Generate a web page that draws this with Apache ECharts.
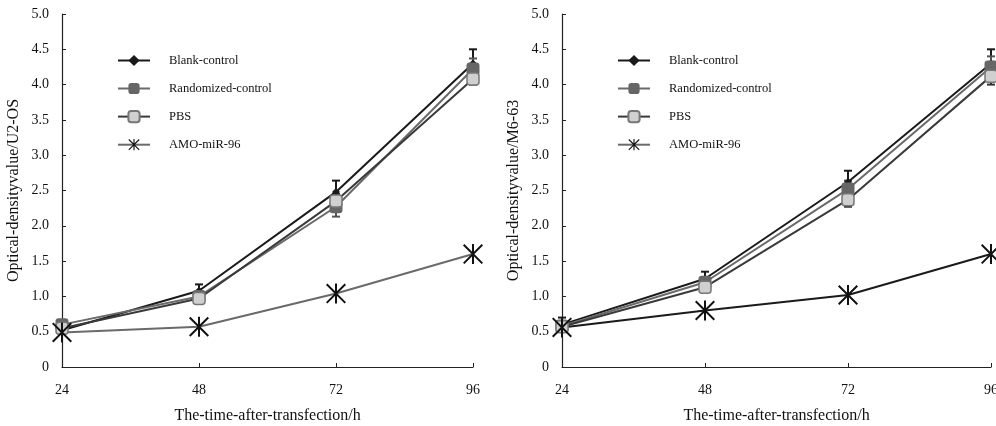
<!DOCTYPE html>
<html>
<head>
<meta charset="utf-8">
<script src="https://cdn.jsdelivr.net/npm/echarts@6/dist/echarts.min.js"></script>
<style>html,body{margin:0;padding:0;background:#fff}#c{width:996px;height:426px}</style>
</head>
<body>
<div id="c"></div>
<script>
const categories = ['24', '48', '72', '96'];
const seriesNames = ['Blank-control', 'Randomized-control', 'PBS', 'AMO-miR-96'];

// Left panel: U2-OS
const u2Blank = [0.52, 1.08, 2.48, 4.30];
const u2Random = [0.60, 1.00, 2.27, 4.22];
const u2PBS = [0.55, 0.97, 2.35, 4.08];
const u2AMO = [0.49, 0.57, 1.04, 1.60];
const u2BlankErr = [0.04, 0.09, 0.16, 0.20];
const u2RandomErr = [0.04, 0.06, 0.14, 0.15];
const u2PBSErr = [0.03, 0.05, 0.10, 0.08];

// Right panel: M6-63
const m6Blank = [0.60, 1.25, 2.62, 4.30];
const m6Random = [0.58, 1.20, 2.52, 4.25];
const m6PBS = [0.57, 1.13, 2.37, 4.12];
const m6AMO = [0.56, 0.80, 1.02, 1.60];
const m6BlankErr = [0.10, 0.10, 0.16, 0.20];
const m6RandomErr = [0.05, 0.06, 0.12, 0.15];
const m6PBSErr = [0.04, 0.05, 0.10, 0.12];

const yTicks = ['0', '0.5', '1.0', '1.5', '2.0', '2.5', '3.0', '3.5', '4.0', '4.5', '5.0'];

const FONT = '"Liberation Serif", "Times New Roman", serif';
const star = 'path://M9 0 L11 0 L11 20 L9 20 Z M1.4 0 L20 18.6 L18.6 20 L0 1.4 Z M18.6 0 L20 1.4 L1.4 20 L0 18.6 Z';

function errSeries(vals, errs, xi, yi, color) {
  const data = vals.map((v, i) => [i, v - errs[i], v + errs[i]]);
  return {
    type: 'custom', xAxisIndex: xi, yAxisIndex: yi, silent: true, z: 1,
    data: data,
    renderItem: function (params, api) {
      const x = api.value(0);
      const lo = api.coord([x, api.value(1)]);
      const hi = api.coord([x, api.value(2)]);
      const w = 4;
      const st = { stroke: color, lineWidth: 2 };
      return { type: 'group', children: [
        { type: 'line', shape: { x1: lo[0], y1: lo[1], x2: hi[0], y2: hi[1] }, style: st },
        { type: 'line', shape: { x1: lo[0] - w, y1: lo[1], x2: lo[0] + w, y2: lo[1] }, style: st },
        { type: 'line', shape: { x1: hi[0] - w, y1: hi[1], x2: hi[0] + w, y2: hi[1] }, style: st }
      ]};
    }
  };
}

function lineSeries(name, vals, xi, yi, lineColor, markerColor, symbol, size, borderColor) {
  return {
    name: name, type: 'line', xAxisIndex: xi, yAxisIndex: yi, data: vals,
    symbol: symbol, symbolSize: size, showSymbol: true, z: 3,
    lineStyle: { color: lineColor, width: 2 },
    itemStyle: { color: markerColor, borderColor: borderColor || markerColor, borderWidth: borderColor ? 1.5 : 0 },
    emphasis: { disabled: true }
  };
}

function panelSeries(xi, blank, rnd, pbs, amo, bErr, rErr, pErr, amoLine) {
  return [
    errSeries(blank, bErr, xi, xi, '#1a1a1a'),
    errSeries(rnd, rErr, xi, xi, '#555'),
    errSeries(pbs, pErr, xi, xi, '#333'),
    lineSeries('Blank-control', blank, xi, xi, '#1a1a1a', '#1a1a1a', 'diamond', 8),
    lineSeries('Randomized-control', rnd, xi, xi, '#6a6a6a', '#666', 'roundRect', 13),
    lineSeries('PBS', pbs, xi, xi, '#3a3a3a', '#d0d0d0', 'roundRect', 12, '#777'),
    lineSeries('AMO-miR-96', amo, xi, xi, amoLine, '#111', star, 20)
  ];
}

function xAxis(gi) {
  return {
    type: 'category', gridIndex: gi, data: categories, boundaryGap: false,
    name: 'The-time-after-transfection/h', nameLocation: 'middle', nameGap: 41,
    nameTextStyle: { fontFamily: FONT, fontSize: 16, color: '#111' },
    axisLine: { lineStyle: { color: '#222', width: 1.2 } },
    axisTick: { inside: true, length: 4, lineStyle: { color: '#222' } },
    axisLabel: { fontFamily: FONT, fontSize: 14, color: '#111', margin: 16 },
    splitLine: { show: false }
  };
}

function yAxis(gi, name) {
  return {
    type: 'value', gridIndex: gi, min: 0, max: 5, interval: 0.5,
    name: name, nameLocation: 'middle', nameGap: 40,
    nameTextStyle: { fontFamily: FONT, fontSize: 16, color: '#111' },
    axisLine: { show: true, lineStyle: { color: '#222', width: 1.2 } },
    axisTick: { show: true, inside: true, length: 4, lineStyle: { color: '#222' } },
    axisLabel: { fontFamily: FONT, fontSize: 14, color: '#111', margin: 13,
      formatter: function (v) { return yTicks[Math.round(v * 2)]; } },
    splitLine: { show: false }
  };
}

function legend(left) {
  return {
    left: left, top: 49, orient: 'vertical', itemGap: 15, itemWidth: 32, itemHeight: 14,
    data: seriesNames,
    textStyle: { fontFamily: FONT, fontSize: 12.5, color: '#111', padding: [0, 0, 0, 14] },
    selectedMode: false
  };
}

const chart = echarts.init(document.getElementById('c'), null, { renderer: 'canvas' });
chart.setOption({
  animation: false,
  backgroundColor: '#fff',
  grid: [
    { left: 62, right: 523, top: 14, bottom: 59, containLabel: false, outerBoundsMode: 'none' },
    { left: 562, right: 5, top: 14, bottom: 59, containLabel: false, outerBoundsMode: 'none' }
  ],
  xAxis: [xAxis(0), xAxis(1)],
  yAxis: [yAxis(0, 'Optical-densityvalue/U2-OS'), yAxis(1, 'Optical-densityvalue/M6-63')],
  legend: [legend(112), legend(612)],
  series: [].concat(
    panelSeries(0, u2Blank, u2Random, u2PBS, u2AMO, u2BlankErr, u2RandomErr, u2PBSErr, '#6a6a6a'),
    panelSeries(1, m6Blank, m6Random, m6PBS, m6AMO, m6BlankErr, m6RandomErr, m6PBSErr, '#1a1a1a')
  )
});
</script>
</body>
</html>
